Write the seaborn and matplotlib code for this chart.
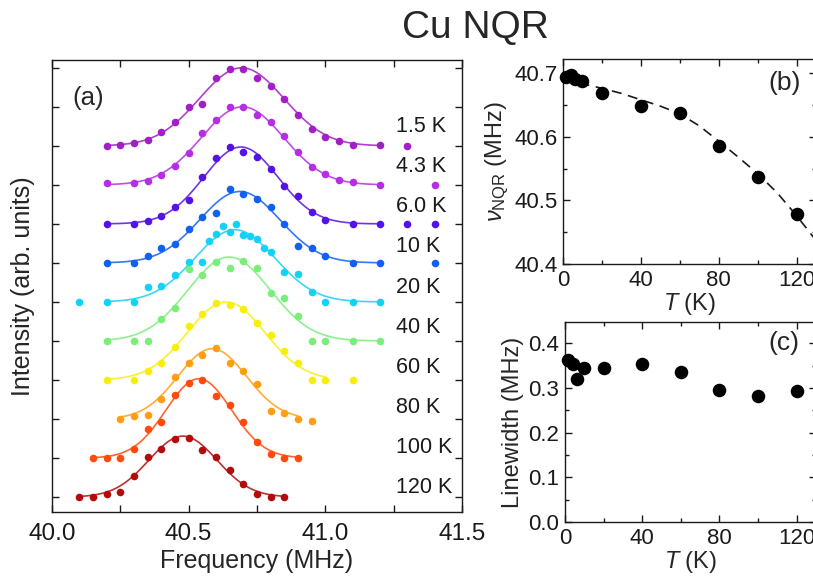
import numpy as np
import pandas as pd
import matplotlib
matplotlib.use("Agg")
import matplotlib.pyplot as plt
import matplotlib.transforms as mtransforms
import seaborn as sns
from matplotlib.ticker import MultipleLocator, NullFormatter, FormatStrFormatter

# ---------------------------------------------------------------- data
TEMP_LABELS = ["1.5 K", "4.3 K", "6.0 K", "10 K", "20 K",
               "40 K", "60 K", "80 K", "100 K", "120 K"]
TEMPS_K = [1.5, 4.3, 6.0, 10, 20, 40, 60, 80, 100, 120]
COLORS = ["#a21fc6", "#b52ee3", "#5512e4", "#1160f2", "#14d2f6",
          "#79ee79", "#f7ef0a", "#ff9e12", "#ff4a0c", "#b20c0c"]

# peak position and width of each line (panels b, c)
NU_NQR = [40.694, 40.697, 40.691, 40.687, 40.669, 40.648, 40.637, 40.586, 40.537, 40.479]
LINEWIDTH = [0.364, 0.355, 0.320, 0.344, 0.346, 0.355, 0.335, 0.296, 0.282, 0.293]
# fitted peak heights and fit ranges of the spectra (panel a)
PEAK_HEIGHT = [2.00, 2.00, 1.97, 1.83, 1.85, 2.15, 2.00, 1.80, 2.03, 1.56]
FIT_LO = [40.20, 40.20, 40.20, 40.20, 40.20, 40.20, 40.20, 40.25, 40.15, 40.10]
FIT_HI = [41.20, 41.20, 41.20, 41.20, 41.20, 41.20, 41.00, 40.90, 40.90, 40.85]

F_1p5 = [40.20, 40.25, 40.30, 40.35, 40.40, 40.45, 40.50, 40.55, 40.60, 40.65, 40.70,
         40.75, 40.80, 40.85, 40.90, 40.95, 41.00, 41.05, 41.10, 41.20, 41.30]
I_1p5 = [0.00, 0.02, 0.06, 0.16, 0.36, 0.62, 0.99, 1.07, 1.74, 1.97, 1.97,
         1.75, 1.54, 1.19, 0.80, 0.44, 0.23, 0.12, 0.03, 0.02, 0.00]

F_4p3 = [40.20, 40.30, 40.35, 40.40, 40.45, 40.50, 40.55, 40.60, 40.65, 40.70,
         40.75, 40.80, 40.85, 40.90, 40.95, 41.00, 41.05, 41.10, 41.20, 41.40]
I_4p3 = [0.04, 0.06, 0.11, 0.26, 0.49, 0.81, 1.34, 1.67, 1.99, 1.99,
         1.79, 1.60, 1.24, 0.85, 0.45, 0.28, 0.13, 0.07, 0.00, 0.00]

F_6p0 = [40.20, 40.30, 40.35, 40.40, 40.45, 40.50, 40.55, 40.60, 40.65, 40.70,
         40.75, 40.80, 40.85, 40.90, 40.95, 41.00, 41.10, 41.20, 41.30, 41.40]
I_6p0 = [0.00, 0.00, 0.07, 0.20, 0.43, 0.61, 1.20, 1.68, 1.98, 1.85,
         1.71, 1.40, 0.97, 0.71, 0.31, 0.11, 0.00, 0.00, 0.00, 0.00]

F_10 = [40.20, 40.30, 40.35, 40.40, 40.45, 40.50, 40.55, 40.60, 40.65, 40.70,
        40.75, 40.80, 40.85, 40.90, 40.95, 41.00, 41.10, 41.20, 41.40]
I_10 = [0.00, 0.00, 0.18, 0.38, 0.48, 0.88, 1.17, 1.29, 1.90, 1.76,
        1.65, 1.44, 1.00, 0.44, 0.38, 0.18, 0.00, 0.00, 0.00]

F_20 = [40.10, 40.20, 40.30, 40.35, 40.40, 40.45, 40.50, 40.55, 40.575, 40.60,
        40.625, 40.65, 40.675, 40.70, 40.725, 40.75, 40.775, 40.80, 40.85, 40.90,
        40.95, 41.00, 41.10, 41.20]
I_20 = [0.00, 0.00, 0.00, 0.39, 0.42, 0.68, 1.01, 1.02, 1.55, 1.74,
        1.94, 1.79, 1.99, 1.72, 1.68, 1.62, 1.38, 1.29, 0.76, 0.71,
        0.25, 0.00, 0.00, 0.00]

F_40 = [40.20, 40.30, 40.35, 40.40, 40.45, 40.50, 40.55, 40.60, 40.65, 40.70,
        40.75, 40.80, 40.85, 40.90, 40.95, 41.00, 41.10, 41.20]
I_40 = [0.00, 0.00, 0.00, 0.55, 0.85, 1.85, 1.68, 2.01, 1.86, 2.06,
        1.87, 1.24, 1.10, 0.65, 0.00, 0.00, 0.00, 0.00]

F_60 = [40.20, 40.30, 40.35, 40.40, 40.45, 40.50, 40.55, 40.60, 40.65, 40.70,
        40.75, 40.80, 40.85, 40.90, 40.95, 41.00, 41.10]
I_60 = [0.00, 0.00, 0.24, 0.44, 0.84, 1.39, 1.69, 1.98, 1.92, 1.81,
        1.45, 1.15, 0.73, 0.43, 0.00, 0.00, 0.00]

F_80 = [40.25, 40.30, 40.35, 40.40, 40.45, 40.50, 40.55, 40.60, 40.65, 40.70,
        40.75, 40.80, 40.85, 40.90, 40.95]
I_80 = [0.01, 0.08, 0.09, 0.52, 1.08, 1.43, 1.63, 1.81, 1.43, 1.22,
        0.89, 0.21, 0.16, 0.01, -0.06]

F_100 = [40.15, 40.20, 40.25, 40.30, 40.35, 40.40, 40.45, 40.50, 40.55, 40.60,
         40.65, 40.70, 40.75, 40.80, 40.85, 40.90]
I_100 = [0.00, 0.00, 0.00, 0.23, 0.73, 0.91, 1.62, 1.93, 2.00, 1.58,
         1.37, 0.92, 0.40, 0.09, 0.00, 0.00]

F_120 = [40.10, 40.15, 40.20, 40.25, 40.30, 40.35, 40.40, 40.45, 40.50, 40.55,
         40.60, 40.65, 40.70, 40.75, 40.80, 40.85]
I_120 = [0.00, 0.00, 0.08, 0.14, 0.54, 1.02, 1.23, 1.48, 1.52, 1.21,
         1.03, 0.69, 0.33, 0.08, 0.00, 0.00]

SPEC_FREQ = [F_1p5, F_4p3, F_6p0, F_10, F_20, F_40, F_60, F_80, F_100, F_120]
SPEC_INT = [I_1p5, I_4p3, I_6p0, I_10, I_20, I_40, I_60, I_80, I_100, I_120]

# dashed guide through nu_NQR(T) in panel (b)
GUIDE_T = [0, 10, 20, 30, 40, 50, 60, 70, 80, 90, 100, 110, 120, 130]
GUIDE_NU = [40.688, 40.683, 40.676, 40.668, 40.658, 40.648, 40.636, 40.617,
            40.593, 40.568, 40.542, 40.512, 40.476, 40.437]

# ---------------------------------------------------------------- style
sns.set_theme(style="ticks")
plt.rcParams["font.family"] = ["Liberation Sans", "DejaVu Sans"]
plt.rcParams["mathtext.fontset"] = "custom"
plt.rcParams["mathtext.rm"] = "Liberation Sans"
plt.rcParams["mathtext.it"] = "Liberation Sans:italic"
plt.rcParams["axes.edgecolor"] = "#1a1a1a"
plt.rcParams["axes.linewidth"] = 1.0

W, H = 813, 577
fig = plt.figure(figsize=(W / 100, H / 100), dpi=100)


def px_axes(left, top, right, bottom):
    return fig.add_axes([left / W, 1 - bottom / H, (right - left) / W, (bottom - top) / H])


def frame_ticks(ax, size=5):
    for which, ln in (("major", size), ("minor", size - 2)):
        ax.tick_params(which=which, direction="in", length=ln, width=1.0,
                       top=True, right=True, colors="#1a1a1a")


# ---------------------------------------------------------------- panel (a)
ax_a = px_axes(52, 60, 462, 512)
n = len(TEMP_LABELS)
for i in range(n):
    offset = n - 1 - i
    sigma = LINEWIDTH[i] / (2 * np.sqrt(2 * np.log(2)))
    f_fit = np.linspace(FIT_LO[i], FIT_HI[i], 300)
    fit = pd.DataFrame({
        "f": f_fit,
        "y": offset + PEAK_HEIGHT[i] * np.exp(-(f_fit - NU_NQR[i]) ** 2 / (2 * sigma ** 2)),
    })
    sns.lineplot(data=fit, x="f", y="y", ax=ax_a, color=COLORS[i], lw=1.2,
                 alpha=0.85, estimator=None, sort=False)
    pts = pd.DataFrame({"f": SPEC_FREQ[i], "y": np.array(SPEC_INT[i]) + offset})
    sns.scatterplot(data=pts, x="f", y="y", ax=ax_a, color=COLORS[i], s=30,
                    linewidth=0, zorder=3)

# temperature tags, evenly stacked down the right side of panel (a)
tag_tf = mtransforms.blended_transform_factory(ax_a.transData, ax_a.transAxes)
label_y = np.linspace(0.852, 0.055, n)
for i in range(n):
    ax_a.text(41.26, label_y[i], TEMP_LABELS[i], transform=tag_tf,
              fontsize=15.5, ha="left", va="center", color="#1a1a1a")

ax_a.set_xlim(40.0, 41.5)
ax_a.set_ylim(-0.385, 11.2)
ax_a.xaxis.set_major_locator(MultipleLocator(0.5))
ax_a.xaxis.set_minor_locator(MultipleLocator(0.25))
ax_a.xaxis.set_major_formatter(FormatStrFormatter("%.1f"))
ax_a.yaxis.set_major_locator(MultipleLocator(1))
ax_a.yaxis.set_major_formatter(NullFormatter())
frame_ticks(ax_a)
ax_a.tick_params(which="minor", length=5)
ax_a.tick_params(axis="x", labelsize=17.5, pad=8)
ax_a.set_xlabel("Frequency (MHz)", fontsize=18, labelpad=3)
ax_a.set_ylabel("Intensity (arb. units)", fontsize=18, labelpad=9)
ax_a.text(0.088, 0.916, "(a)", transform=ax_a.transAxes, fontsize=18.5,
          ha="center", va="center")

# ---------------------------------------------------------------- panel (b)
ax_b = px_axes(563, 59, 816, 264)
guide = pd.DataFrame({"T": GUIDE_T, "nu": GUIDE_NU})
sns.lineplot(data=guide, x="T", y="nu", ax=ax_b, color="#1a1a1a", lw=1.2,
             linestyle=(0, (6, 4)), estimator=None, sort=False)
sns.scatterplot(x=TEMPS_K, y=NU_NQR, ax=ax_b, color="black", s=95,
                linewidth=0, zorder=3, clip_on=False)
ax_b.set_xlim(0, 130)
ax_b.set_ylim(40.4, 40.722)
ax_b.xaxis.set_major_locator(MultipleLocator(40))
ax_b.xaxis.set_minor_locator(MultipleLocator(20))
ax_b.yaxis.set_major_locator(MultipleLocator(0.1))
ax_b.yaxis.set_minor_locator(MultipleLocator(0.05))
ax_b.yaxis.set_major_formatter(FormatStrFormatter("%.1f"))
frame_ticks(ax_b)
ax_b.tick_params(labelsize=16, pad=4)
ax_b.set_xlabel(r"$T$ (K)", fontsize=17, labelpad=0)
ax_b.set_ylabel(r"$\nu_{\mathrm{NQR}}$ (MHz)", fontsize=17, labelpad=2)
ax_b.text(0.874, 0.883, "(b)", transform=ax_b.transAxes, fontsize=19,
          ha="center", va="center")

# ---------------------------------------------------------------- panel (c)
ax_c = px_axes(565, 322, 816, 522)
sns.scatterplot(x=TEMPS_K, y=LINEWIDTH, ax=ax_c, color="black", s=95,
                linewidth=0, zorder=3, clip_on=False)
ax_c.set_xlim(0, 130)
ax_c.set_ylim(0.0, 0.448)
ax_c.xaxis.set_major_locator(MultipleLocator(40))
ax_c.xaxis.set_minor_locator(MultipleLocator(20))
ax_c.yaxis.set_major_locator(MultipleLocator(0.1))
ax_c.yaxis.set_minor_locator(MultipleLocator(0.05))
ax_c.yaxis.set_major_formatter(FormatStrFormatter("%.1f"))
frame_ticks(ax_c)
ax_c.tick_params(labelsize=16, pad=4)
ax_c.set_xlabel(r"$T$ (K)", fontsize=17, labelpad=0)
ax_c.set_ylabel("Linewidth (MHz)", fontsize=17, labelpad=3)
ax_c.text(0.872, 0.894, "(c)", transform=ax_c.transAxes, fontsize=19,
          ha="center", va="center")

fig.text(475 / W, 1 - 28 / H, "Cu NQR", fontsize=28, ha="center", va="center")

fig.savefig("out.png", dpi=100, facecolor="white")
